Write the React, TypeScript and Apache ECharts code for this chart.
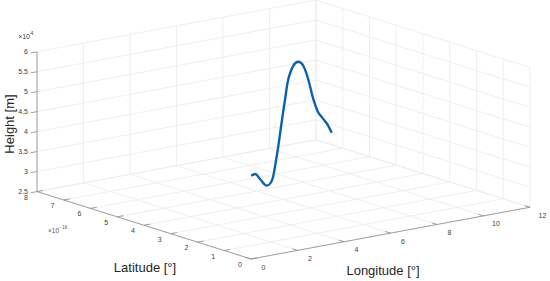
import React, { useEffect, useRef } from "react";
import * as echarts from "echarts";

// ---- data ----
const lonTicks = [0, 2, 4, 6, 8, 10, 12];
const latTicks = [0, 1, 2, 3, 4, 5, 6, 7, 8]; // ×10^-16 deg
const heightTicks = [25000, 30000, 35000, 40000, 45000, 50000, 55000, 60000];
const lonTickLabels = ["0", "2", "4", "6", "8", "10", "12"];
const latTickLabels = ["0", "1", "2", "3", "4", "5", "6", "7", "8"];
const heightTickLabels = ["2.5", "3", "3.5", "4", "4.5", "5", "5.5", "6"];

const trajLon = [4.61, 4.78, 4.99, 5.28, 5.5, 5.64, 5.78, 5.92, 6.07, 6.21, 6.42, 6.64, 6.85, 7.06, 7.28, 7.49, 7.71, 7.92, 8.07];
const trajLat = [4, 4, 4, 4, 4, 4, 4, 4, 4, 4, 4, 4, 4, 4, 4, 4, 4, 4, 4]; // ×10^-16 deg
const trajHeight = [32430, 32670, 31200, 29220, 30240, 33840, 38690, 44380, 50060, 54900, 58000, 58780, 57550, 54000, 48770, 45220, 43310, 41410, 39430];

// ---- 3D view (MATLAB-like orthographic view) ----
const LON_MIN = 0, LON_MAX = 12;
const LAT_MIN = 0, LAT_MAX = 8;
const H_MIN = 25000, H_MAX = 60000;
const AZ = (-37.5 * Math.PI) / 180;
const EL = (14 * Math.PI) / 180;
const ASPECT = [1, 1, 0.41];

function proj(lon: number, lat: number, h: number): [number, number] {
  const u = ((lon - LON_MIN) / (LON_MAX - LON_MIN)) * ASPECT[0];
  const v = ((lat - LAT_MIN) / (LAT_MAX - LAT_MIN)) * ASPECT[1];
  const w = ((h - H_MIN) / (H_MAX - H_MIN)) * ASPECT[2];
  const x = Math.cos(AZ) * u + Math.sin(AZ) * v;
  const y = -Math.sin(AZ) * Math.sin(EL) * u + Math.cos(AZ) * Math.sin(EL) * v + Math.cos(EL) * w;
  return [x, y];
}

type Seg = [number, number, number, number];
function seg(a: [number, number, number], b: [number, number, number]): Seg {
  const p = proj(a[0], a[1], a[2]);
  const q = proj(b[0], b[1], b[2]);
  return [p[0], p[1], q[0], q[1]];
}

function buildGrid(): Seg[] {
  const s: Seg[] = [];
  // floor
  lonTicks.forEach((lo) => s.push(seg([lo, LAT_MIN, H_MIN], [lo, LAT_MAX, H_MIN])));
  latTicks.forEach((la) => s.push(seg([LON_MIN, la, H_MIN], [LON_MAX, la, H_MIN])));
  // back wall (lat = max)
  lonTicks.forEach((lo) => s.push(seg([lo, LAT_MAX, H_MIN], [lo, LAT_MAX, H_MAX])));
  heightTicks.forEach((h) => s.push(seg([LON_MIN, LAT_MAX, h], [LON_MAX, LAT_MAX, h])));
  // right wall (lon = max)
  latTicks.forEach((la) => s.push(seg([LON_MAX, la, H_MIN], [LON_MAX, la, H_MAX])));
  heightTicks.forEach((h) => s.push(seg([LON_MAX, LAT_MIN, h], [LON_MAX, LAT_MAX, h])));
  return s;
}

function buildAxes(): Seg[] {
  const s: Seg[] = [];
  s.push(seg([LON_MIN, LAT_MAX, H_MIN], [LON_MIN, LAT_MAX, H_MAX]));
  s.push(seg([LON_MIN, LAT_MIN, H_MIN], [LON_MIN, LAT_MAX, H_MIN]));
  s.push(seg([LON_MIN, LAT_MIN, H_MIN], [LON_MAX, LAT_MIN, H_MIN]));
  const tl = 0.022;
  const dLon = (LON_MAX - LON_MIN) * tl;
  const dLat = (LAT_MAX - LAT_MIN) * tl * 1.1;
  heightTicks.forEach((h) => s.push(seg([LON_MIN, LAT_MAX, h], [LON_MIN - dLon, LAT_MAX, h])));
  latTicks.forEach((la) => s.push(seg([LON_MIN, la, H_MIN], [LON_MIN + dLon, la, H_MIN])));
  lonTicks.forEach((lo) => s.push(seg([lo, LAT_MIN, H_MIN], [lo, LAT_MIN + dLat, H_MIN])));
  return s;
}

const FONT = "'Liberation Sans', Arial, Helvetica, sans-serif";
const TICK_COLOR = "#404040";

function segSeries(data: Seg[], color: string, width: number, z: number) {
  return {
    type: "custom",
    coordinateSystem: "cartesian2d",
    silent: true,
    z,
    encode: { x: [0, 2], y: [1, 3] },
    data,
    renderItem: (_p: any, api: any) => {
      const a = api.coord([api.value(0), api.value(1)]);
      const b = api.coord([api.value(2), api.value(3)]);
      return {
        type: "line",
        shape: { x1: a[0], y1: a[1], x2: b[0], y2: b[1] },
        style: { stroke: color, lineWidth: width, fill: null },
      };
    },
  };
}

function labelSeries(points: [number, number][], labels: string[], dx: number, dy: number, align: string) {
  return {
    type: "custom",
    coordinateSystem: "cartesian2d",
    silent: true,
    z: 5,
    data: points,
    renderItem: (params: any, api: any) => {
      const p = api.coord([api.value(0), api.value(1)]);
      return {
        type: "text",
        x: p[0] + dx,
        y: p[1] + dy,
        style: {
          text: labels[params.dataIndex],
          fill: TICK_COLOR,
          fontSize: 7,
          fontFamily: FONT,
          align,
          verticalAlign: "middle",
        },
      };
    },
  };
}

export default function App() {
  const ref = useRef<HTMLDivElement>(null);
  useEffect(() => {
    if (!ref.current) return;
    const chart = echarts.init(ref.current, null, { renderer: "svg" });
    const xMin = proj(LON_MIN, LAT_MAX, H_MIN)[0];
    const xMax = proj(LON_MAX, LAT_MIN, H_MIN)[0];
    const yMin = 0;
    const yMax = proj(LON_MAX, LAT_MAX, H_MAX)[1];

    const traj = trajLon.map((lo, i) => proj(lo, trajLat[i], trajHeight[i]));

    const hLabelPts = heightTicks.map((h) => proj(LON_MIN, LAT_MAX, h));
    const latLabelPts = latTicks.map((la) => proj(LON_MIN, la, H_MIN));
    const lonLabelPts = lonTicks.map((lo) => proj(lo, LAT_MIN, H_MIN));

    chart.setOption({
      animation: false,
      backgroundColor: "#ffffff",
      grid: { left: 37, right: 20, top: 0, bottom: 22 },
      xAxis: { type: "value", min: xMin, max: xMax, show: false },
      yAxis: { type: "value", min: yMin, max: yMax, show: false },
      series: [
        segSeries(buildGrid(), "#ebebeb", 0.8, 1),
        segSeries(buildAxes(), "#8a8a8a", 0.8, 2),
        {
          type: "line",
          data: traj,
          smooth: 0.35,
          showSymbol: false,
          symbol: "none",
          clip: false,
          z: 4,
          lineStyle: { color: "#0a62ad", width: 2.4 },
        },
        labelSeries(hLabelPts, heightTickLabels, -9, 0, "right"),
        labelSeries(latLabelPts, latTickLabels, -11, 5.5, "center"),
        labelSeries(lonLabelPts, lonTickLabels, 12.5, 8, "center"),
      ],
      graphic: [
        {
          type: "text",
          x: 9,
          y: 124,
          rotation: Math.PI / 2,
          style: { text: "Height [m]", fill: "#262626", fontSize: 13, fontFamily: FONT, align: "center", verticalAlign: "middle" },
        },
        {
          type: "text",
          x: 145,
          y: 267,
          style: { text: "Latitude [°]", fill: "#262626", fontSize: 13, fontFamily: FONT, align: "center", verticalAlign: "middle" },
        },
        {
          type: "text",
          x: 383,
          y: 270,
          style: { text: "Longitude [°]", fill: "#262626", fontSize: 13, fontFamily: FONT, align: "center", verticalAlign: "middle" },
        },
        {
          type: "text",
          x: 30,
          y: 36,
          style: { text: "×10", fill: TICK_COLOR, fontSize: 7, fontFamily: FONT, align: "right", verticalAlign: "middle" },
        },
        {
          type: "text",
          x: 30.5,
          y: 32.5,
          style: { text: "4", fill: TICK_COLOR, fontSize: 5, fontFamily: FONT, align: "left", verticalAlign: "middle" },
        },
        {
          type: "text",
          x: 59,
          y: 230,
          style: { text: "×10", fill: "#555555", fontSize: 6.5, fontFamily: FONT, align: "right", verticalAlign: "middle" },
        },
        {
          type: "text",
          x: 59.5,
          y: 227,
          style: { text: "−16", fill: "#555555", fontSize: 4.5, fontFamily: FONT, align: "left", verticalAlign: "middle" },
        },
      ],
    });
    return () => chart.dispose();
  }, []);
  return <div ref={ref} style={{ position: "absolute", left: 0, top: 0, width: 550, height: 281 }} />;
}
